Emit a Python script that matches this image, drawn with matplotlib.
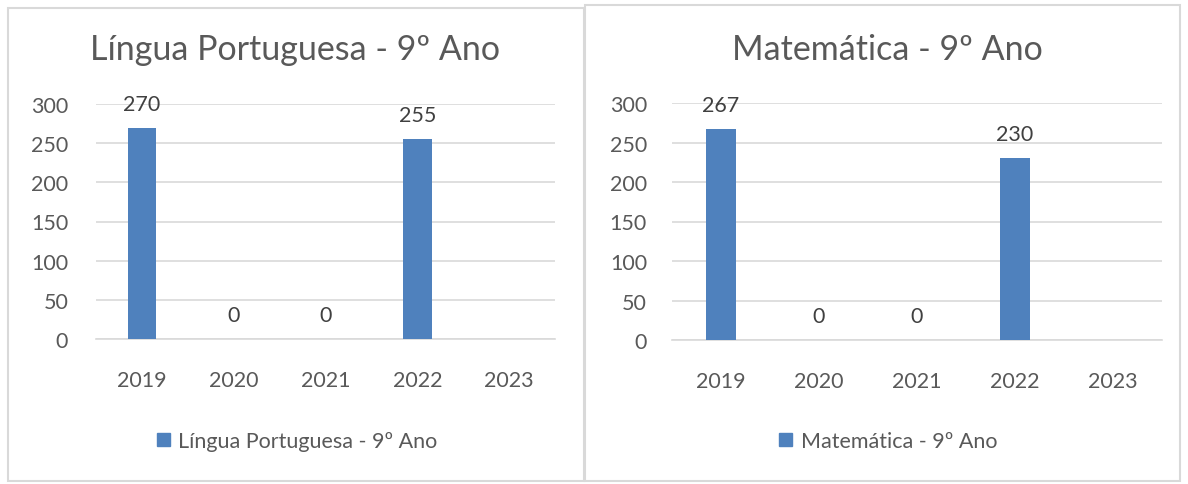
import numpy as np
import matplotlib.pyplot as plt
from matplotlib.patches import Rectangle, Patch

# === Daten ===
anos = ["2019", "2020", "2021", "2022", "2023"]
portugues = [270, 0, 0, 255, np.nan]
matematica = [267, 0, 0, 230, np.nan]
titulo_port = "Língua Portuguesa - 9º Ano"
titulo_mat = "Matemática - 9º Ano"
y_ticks = [0, 50, 100, 150, 200, 250, 300]

plt.rcParams["font.family"] = ["Lato", "DejaVu Sans"]

W, H = 1188, 485
COR_BARRA = "#4f81bd"
COR_TEXTO = "#595959"
COR_GRADE = "#d9d9d9"
FS = 15.5

fig = plt.figure(figsize=(W / 100, H / 100), dpi=100)


def px_box(x0, y0, x1, y1):
    # Pixelkoordinaten (oben links) -> Figure-Koordinaten
    return [x0 / W, (H - y1) / H, (x1 - x0) / W, (y1 - y0) / H]


def painel(rahmen, achse, titulo, valores, titulo_xy, legenda_xy, pad):
    x0, y0, x1, y1 = rahmen
    fig.patches.append(
        Rectangle((x0 / W, (H - y1) / H), (x1 - x0) / W, (y1 - y0) / H,
                  transform=fig.transFigure, facecolor="white",
                  edgecolor=COR_GRADE, linewidth=1.5, zorder=-5)
    )
    ax = fig.add_axes(px_box(*achse))
    x = np.arange(len(anos))
    ax.bar(x, valores, width=0.31, color=COR_BARRA, zorder=3)
    for xi, v in zip(x, valores):
        if not np.isnan(v):
            ax.annotate(f"{v:.0f}", (xi, v), xytext=(0, 10), textcoords="offset points",
                        ha="center", va="bottom", fontsize=FS, color="#404040")
    ax.set_xlim(-0.5, len(anos) - 0.5)
    ax.set_ylim(0, 300)
    ax.set_yticks(y_ticks)
    ax.set_xticks(x)
    ax.set_xticklabels(anos)
    ax.yaxis.grid(True, color=COR_GRADE, linewidth=1.2, zorder=0)
    ax.set_axisbelow(True)
    for s in ["top", "right", "left"]:
        ax.spines[s].set_visible(False)
    ax.spines["bottom"].set_color(COR_GRADE)
    ax.spines["bottom"].set_linewidth(1.2)
    ax.tick_params(axis="both", length=0, labelsize=FS, colors=COR_TEXTO)
    ax.tick_params(axis="y", pad=pad)
    ax.tick_params(axis="x", pad=22)
    ax.patch.set_alpha(0)
    fig.text(titulo_xy[0] / W, 1 - titulo_xy[1] / H, titulo, ha="center", va="center",
             fontsize=24.5, color=COR_TEXTO)
    fig.legend(handles=[Patch(color=COR_BARRA, label=titulo)],
               loc="center", bbox_to_anchor=(legenda_xy[0] / W, 1 - legenda_xy[1] / H),
               frameon=False, fontsize=FS, labelcolor=COR_TEXTO,
               handlelength=0.6, handleheight=0.6, handletextpad=0.4)


painel((8, 9, 584, 482), (96, 105, 555, 340), titulo_port, portugues, (295, 50), (297, 442), 20)
painel((585, 6, 1180, 482), (672, 104, 1162, 341), titulo_mat, matematica, (887, 50), (888, 442), 18)

plt.savefig("out.png", dpi=100)
